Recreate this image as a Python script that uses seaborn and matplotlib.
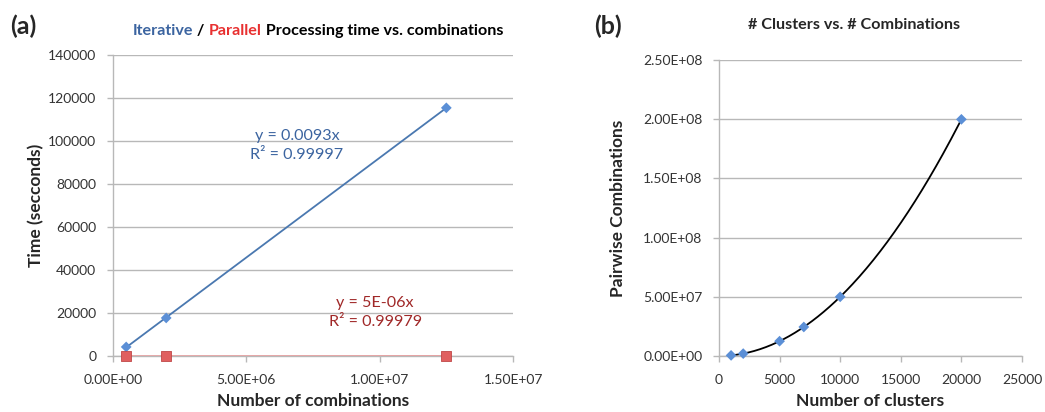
import numpy as np
import pandas as pd
import matplotlib
matplotlib.use("Agg")
import matplotlib.pyplot as plt
import seaborn as sns

# ---- data ----
combinations = [499500, 1999000, 12497500]
iterative_time = [4200, 17700, 115500]
parallel_time = [2.5, 10, 62]

clusters = [1000, 2000, 5000, 7000, 10000, 20000]
pairwise = [499500, 1999000, 12497500, 24496500, 49995000, 199990000]

left_xticks = [0, 5e6, 1e7, 1.5e7]
left_xticklabels = ["0.00E+00", "5.00E+06", "1.00E+07", "1.50E+07"]
left_yticks = [0, 20000, 40000, 60000, 80000, 100000, 120000, 140000]
right_xticks = [0, 5000, 10000, 15000, 20000, 25000]
right_yticks = [0, 5e7, 1e8, 1.5e8, 2e8, 2.5e8]
right_yticklabels = ["0.00E+00", "5.00E+07", "1.00E+08", "1.50E+08", "2.00E+08", "2.50E+08"]

sns.set_style("whitegrid")
plt.rcParams['font.family'] = ['Lato', 'DejaVu Sans']

BLUE_LINE = "#4a78b0"
BLUE_MARK = "#5b8fd6"
RED_MARK = "#e06060"
RED_LINE = "#f0a0a0"
BLUE_TXT = "#3b64a0"
RED_TXT = "#a02828"
GRID = "#b8b8b8"

TICK_FS = 10
LABEL_FS = 12.5
TITLE_FS = 11.6
ANN_FS = 11.6

fig = plt.figure(figsize=(10.45, 4.12), dpi=100)
axA = fig.add_axes([0.108, 0.136, 0.383, 0.730])
axB = fig.add_axes([0.688, 0.136, 0.290, 0.718])

def style(ax):
    ax.grid(False)
    ax.yaxis.grid(True, color=GRID, linewidth=1.0)
    for s in ["top", "right"]:
        ax.spines[s].set_visible(False)
    for s in ["left", "bottom"]:
        ax.spines[s].set_color(GRID)
        ax.spines[s].set_linewidth(1.0)
    ax.tick_params(axis="both", which="both", length=4, width=1.0, color=GRID,
                   labelsize=TICK_FS, labelcolor="#333333", direction="out",
                   left=True, bottom=True)
    ax.tick_params(axis="x", pad=9)
    ax.tick_params(axis="y", pad=8)

# ---- panel (a) ----
dfA = pd.DataFrame({"x": combinations, "it": iterative_time, "par": parallel_time})
xs = np.array([combinations[0], combinations[-1]])
kA = np.polyfit(dfA["x"], dfA["it"], 1)
kP = np.polyfit(dfA["x"], dfA["par"], 1)
sns.lineplot(x=xs, y=np.polyval(kP, xs), ax=axA, color=RED_LINE, linewidth=1.2)
sns.lineplot(x=xs, y=np.polyval(kA, xs), ax=axA, color=BLUE_LINE, linewidth=1.3)
sns.scatterplot(data=dfA, x="x", y="it", ax=axA, marker="D", s=30, color=BLUE_MARK,
                edgecolor="none", zorder=5)
sns.scatterplot(data=dfA, x="x", y="par", ax=axA, marker="s", s=60, color=RED_MARK,
                edgecolor="#c04848", linewidth=0.6, zorder=5, clip_on=False)
axA.set_xlim(0, 1.5e7)
axA.set_ylim(0, 140000)
axA.set_xticks(left_xticks)
axA.set_xticklabels(left_xticklabels)
axA.set_yticks(left_yticks)
axA.set_yticklabels([str(v) for v in left_yticks])
style(axA)
axA.set_xlabel("Number of combinations", fontsize=LABEL_FS, fontweight="bold", labelpad=5)
axA.set_ylabel("Time (secconds)", fontsize=LABEL_FS, fontweight="bold", labelpad=3)
axA.text(6.9e6, 98000, "y = 0.0093x\nR² = 0.99997", color=BLUE_TXT, fontsize=ANN_FS,
         ha="center", va="center", linespacing=1.5)
axA.text(9.83e6, 20200, "y = 5E-06x\nR² = 0.99979", color=RED_TXT, fontsize=ANN_FS,
         ha="center", va="center", linespacing=1.5)

# ---- panel (b) ----
dfB = pd.DataFrame({"clusters": clusters, "pairs": pairwise})
kB = np.polyfit(dfB["clusters"], dfB["pairs"], 2)
xc = np.linspace(clusters[0], clusters[-1], 200)
sns.lineplot(x=xc, y=np.polyval(kB, xc), ax=axB, color="black", linewidth=1.3)
sns.scatterplot(data=dfB, x="clusters", y="pairs", ax=axB, marker="D", s=30,
                color=BLUE_MARK, edgecolor="none", zorder=5, clip_on=False)
axB.set_xlim(0, 25000)
axB.set_ylim(0, 2.5e8)
axB.set_xticks(right_xticks)
axB.set_xticklabels([str(v) for v in right_xticks])
axB.set_yticks(right_yticks)
axB.set_yticklabels(right_yticklabels)
style(axB)
axB.set_xlabel("Number of clusters", fontsize=LABEL_FS, fontweight="bold", labelpad=5)
axB.set_ylabel("Pairwise Combinations", fontsize=LABEL_FS, fontweight="bold", labelpad=12)

# ---- titles ----
fig.text(0.010, 0.937, "(a)", fontsize=18, fontweight="bold", ha="left", va="center")
fig.text(0.569, 0.937, "(b)", fontsize=18, fontweight="bold", ha="left", va="center")
fig.text(0.817, 0.940, "# Clusters vs. # Combinations", fontsize=TITLE_FS, fontweight="bold",
         ha="center", va="center")

parts = [("Iterative", BLUE_TXT), (" / ", "black"), ("Parallel", "#e83030"),
         (" Processing time vs. combinations", "black")]
fig.canvas.draw()
r = fig.canvas.get_renderer()
widths = []
for s, c in parts:
    t = fig.text(0, 0, s, fontsize=TITLE_FS, fontweight="bold")
    bb = t.get_window_extent(renderer=r)
    widths.append(bb.width)
    t.remove()
total = sum(widths)
cx = 318
x0 = cx - total / 2
ypix = 412 - 31
for (s, c), w in zip(parts, widths):
    fig.text(x0 / 1045, ypix / 412, s, fontsize=TITLE_FS, fontweight="bold", color=c,
             ha="left", va="center")
    x0 += w

fig.savefig("out.png", dpi=100)
